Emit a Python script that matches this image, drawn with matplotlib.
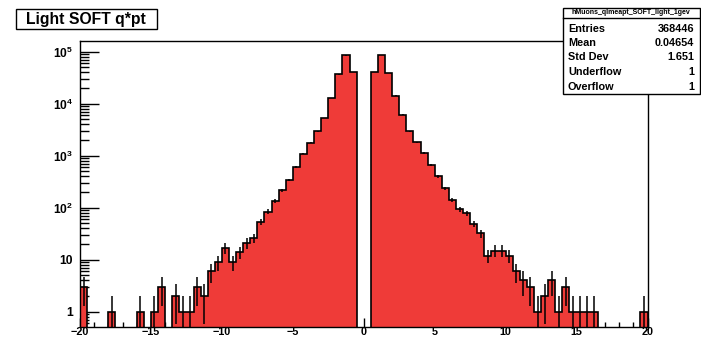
import numpy as np
import matplotlib
matplotlib.use('Agg')
import matplotlib.pyplot as plt
from matplotlib.patches import Rectangle
from matplotlib.lines import Line2D
from matplotlib.ticker import LogLocator, FixedLocator, MultipleLocator, NullFormatter

# ---------------- data ----------------
x_low, x_high = -20.0, 20.0
n_bins = 80
counts = [
    # -20 .. -15.5
    3, 0, 0, 0, 1, 0, 0, 0, 1, 0,
    # -15 .. -10.5
    1, 3, 0, 2, 1, 1, 3, 2, 6, 9,
    # -10 .. -5.5
    17, 9, 14, 21, 26, 54, 84, 136, 214, 340,
    # -5 .. -0.5
    615, 1090, 1760, 2940, 5330, 12900, 36400, 84500, 40300, 0,
    # 0 .. 4.5
    0, 40000, 87000, 39200, 14300, 6170, 2940, 1800, 1130, 670,
    # 5 .. 9.5
    400, 238, 142, 94, 79, 49, 32, 12, 15, 15,
    # 10 .. 14.5
    12, 6, 4, 3, 1, 2, 4, 1, 3, 1,
    # 15 .. 19.5
    1, 1, 1, 0, 0, 0, 0, 0, 0, 1,
]
title = "Light SOFT q*pt"
stats_name = "hMuons_qlmeapt_SOFT_light_1gev"
stats_keys = ["Entries", "Mean", "Std Dev", "Underflow", "Overflow"]
stats_vals = ["368446", "0.04654", "1.651", "1", "1"]
y_tick_vals = [1, 10, 1e2, 1e3, 1e4, 1e5]
y_tick_labels = ["1", "10", r"$\mathbf{10^{2}}$", r"$\mathbf{10^{3}}$",
                 r"$\mathbf{10^{4}}$", r"$\mathbf{10^{5}}$"]

# ---------------- style ----------------
plt.rcParams['font.family'] = ['Liberation Sans', 'DejaVu Sans']
plt.rcParams['font.weight'] = 'bold'
plt.rcParams['mathtext.fontset'] = 'custom'
plt.rcParams['mathtext.rm'] = 'Liberation Sans:bold'
plt.rcParams['mathtext.bf'] = 'Liberation Sans:bold'
plt.rcParams['mathtext.it'] = 'Liberation Sans:bold'

W, H = 701, 340
fig = plt.figure(figsize=(W / 100, H / 100), dpi=100)
fig.patch.set_facecolor('white')


def fx(px):
    return px / W


def fy(py):
    return 1 - py / H


ax = fig.add_axes([fx(80), fy(326.5), fx(647.5) - fx(80), fy(41) - fy(326.5)])

counts_arr = np.array(counts, dtype=float)
edges = np.linspace(x_low, x_high, n_bins + 1)
base = 1e-3
vals = np.where(counts_arr > 0, counts_arr, base)
fill_col = '#ef3b38'
ax.stairs(vals, edges, baseline=base, fill=True, color=fill_col, lw=0, zorder=2)
ax.stairs(vals, edges, baseline=base, fill=False, color='black', lw=1.2, zorder=3)
centers = 0.5 * (edges[:-1] + edges[1:])
m = counts_arr > 0
err = np.sqrt(counts_arr[m])
lo = np.maximum(counts_arr[m] - err, base)
ax.vlines(centers[m], lo, counts_arr[m] + err, color='black', lw=1.1, zorder=4)

ax.set_yscale('log')
ax.set_xlim(x_low, x_high)
ax.set_ylim(0.52, 1.6e5)

ax.xaxis.set_major_locator(MultipleLocator(5))
ax.xaxis.set_minor_locator(MultipleLocator(1))
ax.yaxis.set_major_locator(FixedLocator(y_tick_vals))
ax.set_yticklabels(y_tick_labels)
ax.yaxis.set_minor_locator(LogLocator(base=10, subs=np.arange(2, 10), numticks=30))
ax.yaxis.set_minor_formatter(NullFormatter())

ax.tick_params(axis='y', which='major', direction='in', length=13.7, width=1,
               pad=5, labelsize=8.7, right=False)
ax.tick_params(axis='y', which='minor', direction='in', length=6.5, width=1, right=False)
ax.tick_params(axis='x', which='major', direction='in', length=6.5, width=1,
               pad=0.5, labelsize=7.8, top=False)
ax.tick_params(axis='x', which='minor', direction='in', length=3.6, width=1, top=False)
for lab in ax.get_xticklabels() + ax.get_yticklabels():
    lab.set_fontweight('bold')
for s in ax.spines.values():
    s.set_linewidth(1.0)

# ---------------- title box ----------------
fig.add_artist(Rectangle((fx(16), fy(29.3)), fx(157) - fx(16), fy(9.3) - fy(29.3),
                         transform=fig.transFigure, facecolor='white',
                         edgecolor='black', lw=1.0, zorder=10))
fig.text(fx(86), fy(19.5), title, ha='center', va='center', fontsize=11.3,
         fontweight='bold', zorder=11)

# ---------------- stats box ----------------
fig.add_artist(Rectangle((fx(563), fy(94)), fx(700) - fx(563), fy(8) - fy(94),
                         transform=fig.transFigure, facecolor='white',
                         edgecolor='black', lw=1.0, zorder=10))
fig.add_artist(Line2D([fx(563), fx(700)], [fy(18), fy(18)], transform=fig.transFigure,
                      color='black', lw=1.0, zorder=11))
fig.text(fx(631), fy(13), stats_name, ha='center', va='center', fontsize=5.0,
         fontweight='bold', zorder=11)
row_y = [28.5, 43, 57.5, 72, 86.5]
for k, v, yy in zip(stats_keys, stats_vals, row_y):
    fig.text(fx(568), fy(yy), k, ha='left', va='center', fontsize=7.8,
             fontweight='bold', zorder=11)
    fig.text(fx(694), fy(yy), v, ha='right', va='center', fontsize=7.8,
             fontweight='bold', zorder=11)

fig.savefig('out.png', dpi=100)
